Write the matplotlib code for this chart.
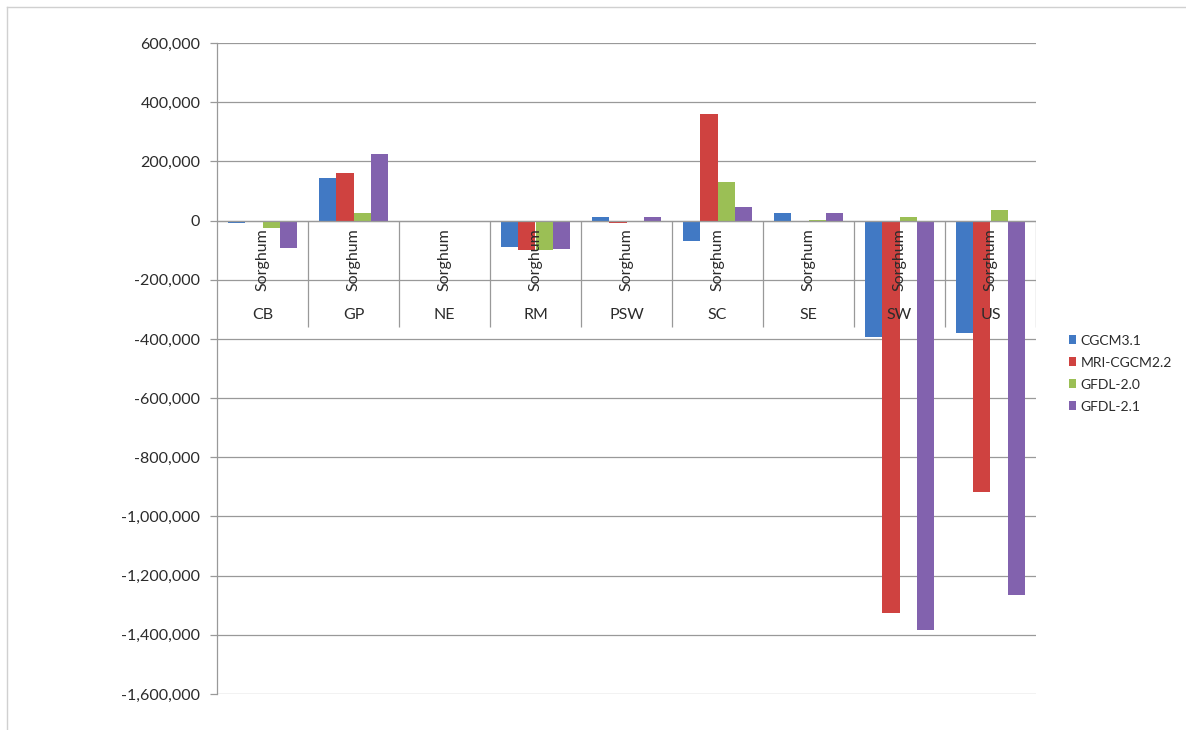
import numpy as np
import matplotlib
matplotlib.use("Agg")
import matplotlib.pyplot as plt
from matplotlib.patches import Patch
from matplotlib.ticker import FuncFormatter

# Data
regions = ["CB", "GP", "NE", "RM", "PSW", "SC", "SE", "SW", "US"]
crop = "Sorghum"
models = ["CGCM3.1", "MRI-CGCM2.2", "GFDL-2.0", "GFDL-2.1"]
cgcm31 = [-8000, 145000, 0, -90000, 12000, -68000, 25000, -392000, -381000]
mri_cgcm22 = [-2000, 160000, 0, -101000, -8000, 359000, 0, -1327000, -918000]
gfdl20 = [-26000, 25000, 0, -99000, -2000, 131000, 2000, 13000, 36000]
gfdl21 = [-92000, 224000, 0, -95000, 11000, 45000, 26000, -1383000, -1265000]
yticks = np.arange(-1600000, 600001, 200000)

series = [cgcm31, mri_cgcm22, gfdl20, gfdl21]
colors = ["#4179C4", "#CF4240", "#9BBF55", "#8262AE"]

plt.rcParams['font.family'] = ['Lato', 'DejaVu Sans']

fig = plt.figure(figsize=(11.86, 7.3), dpi=100)
ax = fig.add_axes([217 / 1186, 1 - 694 / 730, (1036 - 217) / 1186, (694 - 43) / 730])

# Bars
x = np.arange(len(regions)) + 0.5
w = 0.187
for j, (vals, c) in enumerate(zip(series, colors)):
    ax.bar(x + (j - 1.5) * w, vals, width=w, color=c, zorder=3, linewidth=0)

ax.set_xlim(0, len(regions))
ax.set_ylim(-1600000, 600000)
ax.set_yticks(yticks)
ax.yaxis.set_major_formatter(FuncFormatter(lambda v, p: f"{int(v):,}"))
ax.tick_params(axis='y', length=5, width=0.9, color='#999999', pad=7,
               labelsize=11.5, labelcolor='#2b2b2b')
ax.set_xticks([])

# Grid lines
ax.grid(axis='y', color='#999999', linewidth=0.9, zorder=0)
for s in ['top', 'right', 'bottom']:
    ax.spines[s].set_visible(False)
ax.spines['left'].set_color('#999999')
ax.spines['left'].set_linewidth(0.9)

# Multi-level category axis drawn at zero line
ax.axhline(0, color='#999999', linewidth=0.9, zorder=4)
ax.vlines(np.arange(1, len(regions) + 1), -360000, 0, color='#999999',
          linewidth=0.9, zorder=2)
for xi, r in zip(x, regions):
    ax.text(xi, -133000, crop, rotation=90, ha='center', va='center',
            fontsize=11.5, color='#2b2b2b', zorder=5)
    ax.text(xi, -319000, r, ha='center', va='center', fontsize=11.5,
            color='#2b2b2b', zorder=5)

# Legend
handles = [Patch(facecolor=c, edgecolor='none') for c in colors]
fig.legend(handles, models, loc='upper left', bbox_to_anchor=(1056 / 1186, 1 - 322 / 730),
           frameon=False, fontsize=10, handlelength=0.55, handleheight=0.55,
           handletextpad=0.3, labelspacing=0.72, labelcolor='#2b2b2b')

# Light outer frame (top and left edges visible in the reference)
fig.add_artist(plt.Line2D([7 / 1186, 1], [1 - 7 / 730, 1 - 7 / 730],
                          transform=fig.transFigure, color='#D0D0D0', linewidth=1))
fig.add_artist(plt.Line2D([7 / 1186, 7 / 1186], [0, 1 - 7 / 730],
                          transform=fig.transFigure, color='#D0D0D0', linewidth=1))

fig.savefig("out.png", dpi=100)
